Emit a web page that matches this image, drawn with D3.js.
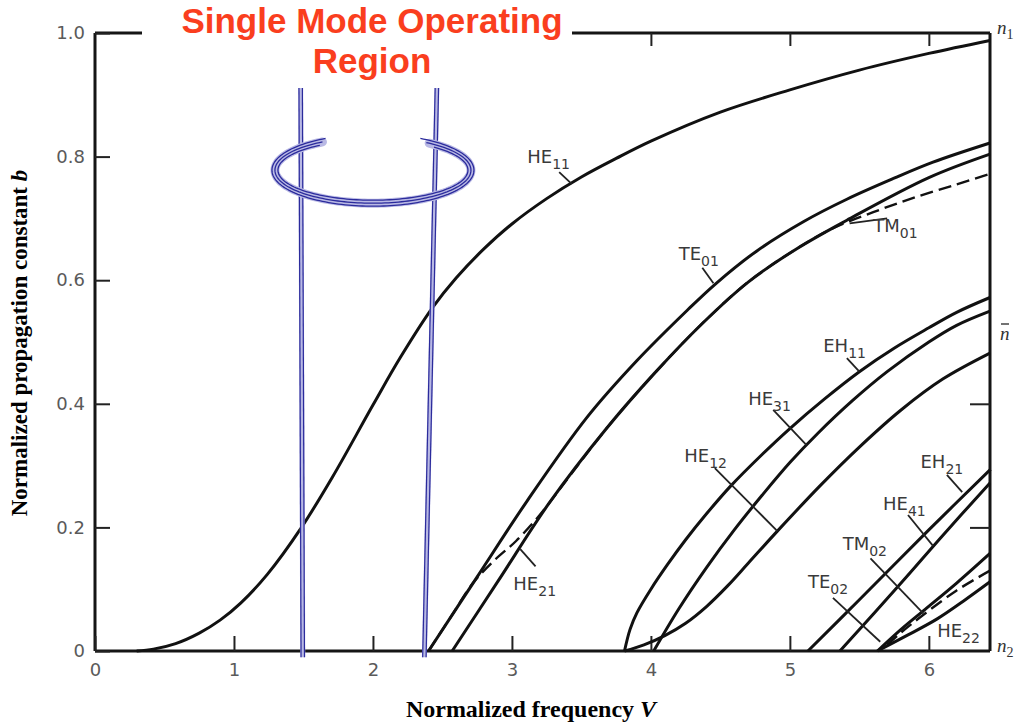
<!DOCTYPE html>
<html><head><meta charset="utf-8">
<script src="https://cdn.jsdelivr.net/npm/d3@7"></script>
<style>
html,body{margin:0;padding:0;background:#fff;}
svg{display:block;}
</style></head>
<body>
<svg id="chart" width="1029" height="727"></svg>
<script>
// Normalized propagation constant b versus normalized frequency V, one array per mode: [V, b]
const HE11 = [[0.30,0],[0.42,0.003],[0.58,0.012],[0.75,0.029],[0.90,0.050],[1.05,0.078],[1.24,0.124],[1.48,0.198],[1.71,0.282],[2.00,0.398],[2.20,0.476],[2.43,0.556],[2.60,0.604],[2.80,0.651],[3.00,0.691],[3.25,0.732],[3.50,0.767],[3.75,0.797],[4.00,0.825],[4.50,0.872],[5.00,0.908],[5.50,0.940],[6.00,0.967],[6.44,0.988]];
const TE01 = [[2.40,0],[2.75,0.120],[3.11,0.243],[3.54,0.378],[3.90,0.470],[4.26,0.551],[4.47,0.595],[4.76,0.647],[5.10,0.695],[5.41,0.731],[5.75,0.765],[6.03,0.791],[6.44,0.822]];
const HE21 = [[2.57,0],[2.90,0.113],[3.27,0.240],[3.68,0.360],[4.02,0.448],[4.37,0.530],[4.70,0.597],[5.05,0.651],[5.41,0.697],[6.00,0.766],[6.44,0.804]];
const TM01 = [[2.40,0],[2.56,0.055],[2.72,0.110],[2.88,0.148],[3.03,0.178],[3.20,0.220],[3.27,0.240],[3.68,0.360],[4.02,0.448],[4.37,0.530],[4.70,0.597],[5.05,0.651],[5.30,0.683],[5.60,0.710],[5.90,0.734],[6.20,0.755],[6.44,0.772]];
const EH11 = [[3.81,0],[3.85,0.035],[3.90,0.062],[4.00,0.100],[4.12,0.140],[4.25,0.180],[4.40,0.222],[4.57,0.266],[4.80,0.318],[5.00,0.360],[5.25,0.408],[5.50,0.452],[5.75,0.490],[6.00,0.523],[6.20,0.548],[6.44,0.572]];
const HE31 = [[4.02,0],[4.20,0.068],[4.40,0.135],[4.60,0.196],[4.80,0.252],[5.00,0.305],[5.20,0.352],[5.45,0.405],[5.70,0.452],[6.00,0.500],[6.20,0.527],[6.44,0.550]];
const HE12 = [[3.81,0],[3.95,0.010],[4.10,0.025],[4.25,0.045],[4.40,0.072],[4.55,0.105],[4.70,0.142],[4.91,0.194],[5.22,0.268],[5.50,0.330],[5.80,0.390],[6.10,0.440],[6.44,0.482]];
const EH21 = [[5.13,0],[5.50,0.083],[6.00,0.196],[6.44,0.293]];
const HE41 = [[5.36,0],[5.80,0.110],[6.10,0.187],[6.44,0.272]];
const TM02 = [[5.63,0],[5.80,0.035],[5.96,0.065],[6.20,0.110],[6.44,0.158]];
const TE02 = [[5.70,0.010],[5.80,0.030],[5.94,0.055],[6.20,0.098],[6.44,0.130]];
const HE22 = [[5.63,0],[5.85,0.026],[6.06,0.052],[6.25,0.081],[6.44,0.112]];

const solidModes = [HE11, TE01, HE21, EH11, HE31, HE12, EH21, HE41, TM02, HE22];
const dashedModes = [TM01, TE02];

// Axis ticks
const xTicks = [0, 1, 2, 3, 4, 5, 6];
const yTicks = [0, 0.2, 0.4, 0.6, 0.8, 1.0];
const yTickLabels = ["0", "0.2", "0.4", "0.6", "0.8", "1.0"];
const topTicks = [4, 5, 6];
const rightTicks = [0.2, 0.4];

// Mode labels: name, subscript, text anchor [V,b], leader line [V,b] -> [V,b]
const modeNames = ["HE","TE","TM","HE","EH","HE","HE","EH","HE","TM","TE","HE"];
const modeSubs  = ["11","01","01","21","11","31","12","21","41","02","02","22"];
const labelAt   = [[3.11,0.790],[4.20,0.633],[5.60,0.678],[3.01,0.099],[5.24,0.484],[4.70,0.398],[4.24,0.306],[5.94,0.296],[5.67,0.228],[5.38,0.163],[5.13,0.102],[6.06,0.023]];
const leaderFrom = [[3.34,0.775],[4.37,0.620],[5.70,0.700],[3.06,0.165],[5.41,0.474],[4.88,0.390],[4.46,0.296],[6.13,0.285],[5.85,0.220],[5.58,0.150],[5.31,0.086],null];
const leaderTo   = [[3.43,0.756],[4.45,0.595],[5.43,0.692],[3.17,0.137],[5.50,0.452],[5.12,0.333],[4.91,0.194],[6.24,0.257],[6.03,0.170],[5.96,0.061],[5.65,0.015],null];

// Single-mode region markers
const regionLeft  = [[1.480, 0.911], [1.495, -0.010]];
const regionRight = [[2.460, 0.911], [2.370, -0.010]];
const ringCenter = [2.0, 0.778];

const x = d3.scaleLinear().domain([0, 6.44]).range([95, 990]);
const y = d3.scaleLinear().domain([0, 1]).range([651, 33]);

const svg = d3.select("#chart");

// Frame
const frame = svg.append("g").attr("stroke", "#151515").attr("stroke-width", 3).attr("fill", "none");
frame.append("line").attr("x1", x(0)).attr("x2", x(0)).attr("y1", y(1)).attr("y2", y(0));
frame.append("line").attr("x1", x(0)).attr("x2", x(6.44)).attr("y1", y(0)).attr("y2", y(0));
frame.append("line").attr("x1", x(6.44)).attr("x2", x(6.44)).attr("y1", y(1)).attr("y2", y(0));
frame.append("line").attr("x1", x(0)).attr("x2", x(6.44)).attr("y1", y(1)).attr("y2", y(1));

const tickFont = "'DejaVu Sans', sans-serif";

// Bottom axis: ticks point inward
const xAxis = d3.axisBottom(x).tickValues(xTicks).tickSizeInner(-15).tickSizeOuter(0).tickPadding(12).tickFormat(d3.format("d"));
const gx = svg.append("g").attr("transform", `translate(0,${y(0)})`).call(xAxis);
gx.select(".domain").remove();
gx.selectAll(".tick line").attr("stroke", "#222").attr("stroke-width", 2);
gx.selectAll(".tick text").attr("font-family", tickFont).attr("font-size", 18).attr("fill", "#5a5a5a");

// Left axis
const yAxis = d3.axisLeft(y).tickValues(yTicks).tickSizeInner(-15).tickSizeOuter(0).tickPadding(10).tickFormat((d, i) => yTickLabels[i]);
const gy = svg.append("g").attr("transform", `translate(${x(0)},0)`).call(yAxis);
gy.select(".domain").remove();
gy.selectAll(".tick line").attr("stroke", "#222").attr("stroke-width", 2);
gy.selectAll(".tick text").attr("font-family", tickFont).attr("font-size", 18).attr("fill", "#5a5a5a");

// Top and right inner ticks
const gt = svg.append("g").attr("transform", `translate(0,${y(1)})`).call(d3.axisTop(x).tickValues(topTicks).tickSizeInner(-13).tickSizeOuter(0).tickFormat(""));
gt.select(".domain").remove();
gt.selectAll(".tick line").attr("stroke", "#222").attr("stroke-width", 2);
const gr = svg.append("g").attr("transform", `translate(${x(6.44)},0)`).call(d3.axisRight(y).tickValues(rightTicks).tickSizeInner(-20).tickSizeOuter(0).tickFormat(""));
gr.select(".domain").remove();
gr.selectAll(".tick line").attr("stroke", "#222").attr("stroke-width", 2);

// Mode curves
const line = d3.line().x(d => x(d[0])).y(d => y(d[1])).curve(d3.curveCatmullRom.alpha(0.5));
svg.append("g").selectAll("path").data(dashedModes).join("path")
  .attr("d", line).attr("fill", "none").attr("stroke", "#111").attr("stroke-width", 2.4)
  .attr("stroke-dasharray", "13,6");
svg.append("g").selectAll("path").data(solidModes).join("path")
  .attr("d", line).attr("fill", "none").attr("stroke", "#111").attr("stroke-width", 3)
  .attr("stroke-linejoin", "round");

// Mode labels and leaders
const lab = svg.append("g");
modeNames.forEach((name, i) => {
  if (leaderFrom[i]) {
    lab.append("line")
      .attr("x1", x(leaderFrom[i][0])).attr("y1", y(leaderFrom[i][1]))
      .attr("x2", x(leaderTo[i][0])).attr("y2", y(leaderTo[i][1]))
      .attr("stroke", "#222").attr("stroke-width", 1.8);
  }
  const t = lab.append("text")
    .attr("x", x(labelAt[i][0])).attr("y", y(labelAt[i][1]))
    .attr("font-family", tickFont).attr("font-size", 18).attr("fill", "#3a3a3a");
  t.append("tspan").text(name);
  t.append("tspan").attr("dy", 6).attr("font-size", 14).text(modeSubs[i]);
});

// Refractive index markers on the right edge
const serif = "'Liberation Serif', 'DejaVu Serif', serif";
const n1 = svg.append("text").attr("x", 997).attr("y", 34).attr("font-family", serif).attr("font-style", "italic").attr("font-size", 19).attr("fill", "#333");
n1.append("tspan").text("n");
n1.append("tspan").attr("dy", 5).attr("font-size", 14).attr("font-style", "normal").text("1");
const n2 = svg.append("text").attr("x", 997).attr("y", 652).attr("font-family", serif).attr("font-style", "italic").attr("font-size", 19).attr("fill", "#333");
n2.append("tspan").text("n");
n2.append("tspan").attr("dy", 5).attr("font-size", 14).attr("font-style", "normal").text("2");
svg.append("text").attr("x", 1000).attr("y", 340).attr("font-family", serif).attr("font-style", "italic").attr("font-size", 19).attr("fill", "#333").text("n");
svg.append("line").attr("x1", 1001).attr("x2", 1009).attr("y1", 324).attr("y2", 324).attr("stroke", "#444").attr("stroke-width", 1.5);

// Single-mode region: double vertical rules and encircling ring
const blueDark = "#2b2b9c", blueLight = "#b9b9e4";
function doubleRule(pts) {
  const p = pts.map(d => [x(d[0]), y(d[1])]);
  svg.append("line").attr("x1", p[0][0]).attr("y1", p[0][1]).attr("x2", p[1][0]).attr("y2", p[1][1])
    .attr("stroke", blueLight).attr("stroke-width", 5);
  [-1.7, 1.7].forEach(o => {
    svg.append("line").attr("x1", p[0][0] + o).attr("y1", p[0][1]).attr("x2", p[1][0] + o).attr("y2", p[1][1])
      .attr("stroke", blueDark).attr("stroke-width", 1.2);
  });
}
doubleRule(regionLeft);
doubleRule(regionRight);

const cx = x(ringCenter[0]), cy = y(ringCenter[1]);
function ringArc(rx, ry, a0, a1) {
  const pts = d3.range(a0, a1 + 0.5, 2).map(a => {
    const r = a * Math.PI / 180;
    return [cx + rx * Math.cos(r), cy + ry * Math.sin(r)];
  });
  return d3.line()(pts);
}
svg.append("path").attr("d", ringArc(98, 33, -55, 239)).attr("fill", "none").attr("stroke", blueLight).attr("stroke-width", 9).attr("stroke-linecap", "round");
[[95, 30, -50, 236], [98, 33, -57, 239], [101, 36, -62, 242]].forEach(r => {
  svg.append("path").attr("d", ringArc(r[0], r[1], r[2], r[3])).attr("fill", "none").attr("stroke", blueDark).attr("stroke-width", 1.3);
});

// Title block
svg.append("rect").attr("x", 142).attr("y", 0).attr("width", 430).attr("height", 80).attr("fill", "#fff");
const title = svg.append("text").attr("text-anchor", "middle").attr("font-family", "'Liberation Sans', Arial, sans-serif")
  .attr("font-weight", "bold").attr("font-size", 35).attr("fill", "#fa3e1e");
title.append("tspan").attr("x", 372).attr("y", 33).text("Single Mode Operating");
title.append("tspan").attr("x", 372).attr("y", 73).text("Region");

// Axis titles
const xt = svg.append("text").attr("x", 531).attr("y", 717).attr("text-anchor", "middle")
  .attr("font-family", serif).attr("font-weight", "bold").attr("font-size", 24).attr("fill", "#000");
xt.append("tspan").text("Normalized frequency ");
xt.append("tspan").attr("font-style", "italic").text("V");
const yt = svg.append("text").attr("transform", "translate(27,343) rotate(-90)").attr("text-anchor", "middle")
  .attr("font-family", serif).attr("font-weight", "bold").attr("font-size", 23).attr("fill", "#000");
yt.append("tspan").text("Normalized propagation constant ");
yt.append("tspan").attr("font-style", "italic").text("b");
</script>
</body></html>
